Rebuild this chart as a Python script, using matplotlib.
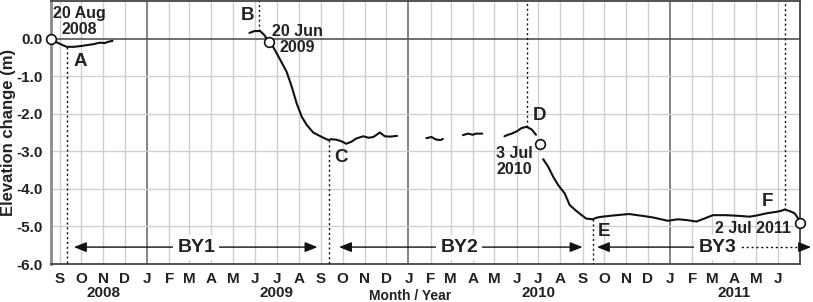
import numpy as np
import matplotlib
matplotlib.use('Agg')
import matplotlib.pyplot as plt
import matplotlib.dates as mdates
import matplotlib.transforms as mtransforms

# ---------------- data ----------------
seg1_dates = ['2008-08-20', '2008-08-28', '2008-09-06', '2008-09-11', '2008-09-21', '2008-09-30',
              '2008-10-18', '2008-10-27', '2008-11-03', '2008-11-07', '2008-11-14']
seg1_vals = [0.0, -0.10, -0.18, -0.22, -0.22, -0.20, -0.15, -0.11, -0.12, -0.09, -0.06]

seg2_dates = ['2009-05-24', '2009-05-31', '2009-06-08', '2009-06-14', '2009-06-20', '2009-06-26',
              '2009-07-05', '2009-07-15', '2009-07-22', '2009-07-29', '2009-08-05', '2009-08-12',
              '2009-08-21', '2009-09-01', '2009-09-11', '2009-09-15', '2009-09-22', '2009-09-29',
              '2009-10-06', '2009-10-13', '2009-10-20', '2009-10-30', '2009-11-06', '2009-11-13',
              '2009-11-22', '2009-11-29', '2009-12-06', '2009-12-16']
seg2_vals = [0.15, 0.20, 0.20, 0.09, -0.10, -0.22, -0.53, -0.89, -1.28, -1.73, -2.08, -2.30,
             -2.50, -2.61, -2.70, -2.68, -2.69, -2.73, -2.80, -2.75, -2.66, -2.60, -2.64, -2.62,
             -2.50, -2.60, -2.61, -2.59]

seg3_dates = ['2010-01-26', '2010-02-02', '2010-02-09', '2010-02-15', '2010-02-18']
seg3_vals = [-2.65, -2.62, -2.69, -2.70, -2.67]

seg4_dates = ['2010-03-18', '2010-03-25', '2010-04-01', '2010-04-05', '2010-04-14']
seg4_vals = [-2.57, -2.53, -2.56, -2.53, -2.53]

seg5_dates = ['2010-05-15', '2010-05-20', '2010-05-25', '2010-06-01', '2010-06-08', '2010-06-15',
              '2010-06-22', '2010-06-28']
seg5_vals = [-2.60, -2.56, -2.53, -2.47, -2.38, -2.35, -2.42, -2.56]

seg6_dates = ['2010-07-08', '2010-07-15', '2010-07-22', '2010-07-29', '2010-08-07', '2010-08-14',
              '2010-08-21', '2010-08-30', '2010-09-06', '2010-09-15', '2010-09-22', '2010-09-29',
              '2010-10-13', '2010-11-05', '2010-11-24', '2010-12-08', '2010-12-29', '2011-01-12',
              '2011-01-24', '2011-02-07', '2011-02-18', '2011-03-02', '2011-03-20', '2011-04-08',
              '2011-04-22', '2011-05-02', '2011-05-16', '2011-05-30', '2011-06-06', '2011-06-10',
              '2011-06-17', '2011-06-24', '2011-06-29', '2011-07-02']
seg6_vals = [-3.21, -3.41, -3.68, -3.90, -4.12, -4.43, -4.55, -4.69, -4.79, -4.81, -4.76, -4.74,
             -4.71, -4.67, -4.72, -4.76, -4.85, -4.81, -4.83, -4.87, -4.79, -4.70, -4.70, -4.72,
             -4.74, -4.71, -4.65, -4.61, -4.58, -4.55, -4.59, -4.65, -4.79, -4.90]

circle_dates = ['2008-08-20', '2009-06-20', '2010-07-03', '2011-07-02']
circle_vals = [0.0, -0.10, -2.80, -4.90]
circle_labels = ['20 Aug\n2008', '20 Jun\n2009', '3 Jul\n2010', '2 Jul 2011']

event_labels = ['A', 'B', 'C', 'D', 'E', 'F']
event_dates = ['2008-09-11', '2009-06-07', '2009-09-12', '2010-06-15', '2010-09-15', '2011-06-10']
event_vals = [-0.22, 0.20, -2.70, -2.35, -4.81, -4.55]
event_side = ['down', 'up', 'down', 'up', 'down', 'up']

by_labels = ['BY1', 'BY2', 'BY3']

month_letters = list('SONDJFMAMJJASONDJFMAMJJASONDJFMAMJ')
year_labels = ['2008', '2009', '2010', '2011']
yticks = [0.0, -1.0, -2.0, -3.0, -4.0, -5.0, -6.0]


def D(s):
    return mdates.date2num(np.datetime64(s, 'D'))


def DA(lst):
    return mdates.date2num(np.array(lst, dtype='datetime64[D]'))


# ---------------- style ----------------
plt.rcParams['font.family'] = ['Liberation Sans', 'DejaVu Sans']
plt.rcParams['font.weight'] = 'bold'
TXT = '#222222'

fig = plt.figure(figsize=(8.13, 3.02), dpi=100)
ax = fig.add_axes([51 / 813, 38 / 302, 749 / 813, 263 / 302])
ax.set_xlim(D('2008-08-20'), D('2011-07-01') + 0.5)
ax.set_ylim(-6, 1)

# grid
months = np.arange(np.datetime64('2008-09'), np.datetime64('2011-07'), dtype='datetime64[M]')
month_days = months.astype('datetime64[D]')
for m in months:
    x = mdates.date2num(m.astype('datetime64[D]'))
    if str(m).endswith('-01'):
        ax.axvline(x, color='#7a7a7a', lw=1.3, zorder=1)
    else:
        ax.axvline(x, color='#cfcfcf', lw=1.0, zorder=1)
for y in [-1, -2, -3, -4, -5]:
    ax.axhline(y, color='#cfcfcf', lw=1.0, zorder=1)
ax.axhline(0, color='#555555', lw=1.2, zorder=1)

# spines
for s in ['top', 'right', 'bottom']:
    ax.spines[s].set_color('#444444')
    ax.spines[s].set_linewidth(1.3)
ax.spines['left'].set_color('#8a8a8a')
ax.spines['left'].set_linewidth(2.0)

# ticks
ax.set_xticks(mdates.date2num(month_days))
ax.set_xticklabels(month_letters, fontsize=11, fontweight='bold', color=TXT)
ax.set_yticks(yticks)
ax.set_yticklabels([f'{v:.1f}' for v in yticks], fontsize=11, fontweight='bold', color=TXT)
ax.tick_params(axis='both', length=0)
ax.tick_params(axis='x', pad=6)
ax.tick_params(axis='y', pad=6)

fig.text(9 / 813, 1 - 132 / 302, 'Elevation change (m)', rotation=90, ha='center', va='center',
         fontsize=12, fontweight='bold', color=TXT)

# year labels
trans = mtransforms.blended_transform_factory(ax.transData, ax.transAxes)
year_pos = ['2008-11-01', '2009-07-01', '2010-07-01', '2011-04-01']
for lab, p in zip(year_labels, year_pos):
    ax.text(D(p), -0.11, lab, transform=trans, ha='center', va='center',
            fontsize=11, fontweight='bold', color=TXT)
fig.text(410 / 813, 6 / 302, 'Month / Year', ha='center', va='center',
         fontsize=10, fontweight='bold', color=TXT)

# curves
for dts, vals in [(seg1_dates, seg1_vals), (seg2_dates, seg2_vals), (seg3_dates, seg3_vals),
                  (seg4_dates, seg4_vals), (seg5_dates, seg5_vals), (seg6_dates, seg6_vals)]:
    ax.plot(DA(dts), vals, color='#111111', lw=1.5, zorder=4, solid_capstyle='round')

ax.plot(DA(circle_dates), circle_vals, 'o', ms=7, mfc='white', mec='#111111', mew=1.2,
        zorder=6, clip_on=False)

# event dotted lines
for lab, dt, v, side in zip(event_labels, event_dates, event_vals, event_side):
    x = D(dt)
    if side == 'down':
        ax.plot([x, x], [v, -6], color='#111111', lw=1.0, ls=(0, (1.5, 2)), zorder=3)
    else:
        ax.plot([x, x], [v, 1], color='#111111', lw=1.0, ls=(0, (1.5, 2)), zorder=3)

# event letters
letter_pos = {'A': ('2008-09-30', -0.60), 'B': ('2009-05-21', 0.62), 'C': ('2009-09-29', -3.17),
              'D': ('2010-07-03', -2.04), 'E': ('2010-10-01', -5.13), 'F': ('2011-05-17', -4.34)}
for lab in event_labels:
    p, yv = letter_pos[lab]
    ax.text(D(p), yv, lab, ha='center', va='center', fontsize=13.5, fontweight='bold',
            color=TXT, zorder=7)

# circle labels
clab_pos = [('2008-09-28', 0.45, 'center'), ('2009-07-30', -0.02, 'center'),
            ('2010-05-29', -3.27, 'center'), ('2011-06-19', -5.06, 'right')]
for lab, (p, yv, ha) in zip(circle_labels, clab_pos):
    ax.text(D(p), yv, lab, ha=ha, va='center', fontsize=11.5, fontweight='bold', color=TXT,
            linespacing=1.1, multialignment='center', zorder=7)

# BY arrows
ya = -5.55
ap = dict(arrowstyle='-|>,head_length=0.75,head_width=0.3', color='#111111', lw=1.0,
          shrinkA=0, shrinkB=0, mutation_scale=10)
by_spans = [('2008-09-21', '2009-08-27', '2009-03-11'),
            ('2009-09-26', '2010-09-01', '2010-03-13')]
for lab, (a, b, c) in zip(by_labels[:2], by_spans):
    ax.annotate('', xy=(D(a), ya), xytext=(D(c), ya), arrowprops=ap, zorder=5)
    ax.annotate('', xy=(D(b), ya), xytext=(D(c), ya), arrowprops=ap, zorder=5)
    ax.text(D(c), ya, lab, ha='center', va='center', fontsize=14, fontweight='bold', color=TXT,
            zorder=8, bbox=dict(facecolor='white', edgecolor='none', pad=3))
# BY3
c3 = D('2011-03-08')
ax.annotate('', xy=(D('2010-09-21'), ya), xytext=(c3, ya), arrowprops=ap, zorder=5)
ax.plot([c3, D('2011-07-08')], [ya, ya], color='#111111', lw=1.0, ls=(0, (1.5, 2)),
        zorder=5, clip_on=False)
ap2 = dict(ap)
ax.annotate('', xy=(D('2011-07-17'), ya), xytext=(D('2011-07-05'), ya), arrowprops=ap2,
            zorder=5, annotation_clip=False)
ax.text(c3, ya, by_labels[2], ha='center', va='center', fontsize=14, fontweight='bold',
        color=TXT, zorder=8, bbox=dict(facecolor='white', edgecolor='none', pad=3))

fig.savefig('out.png', dpi=100)
